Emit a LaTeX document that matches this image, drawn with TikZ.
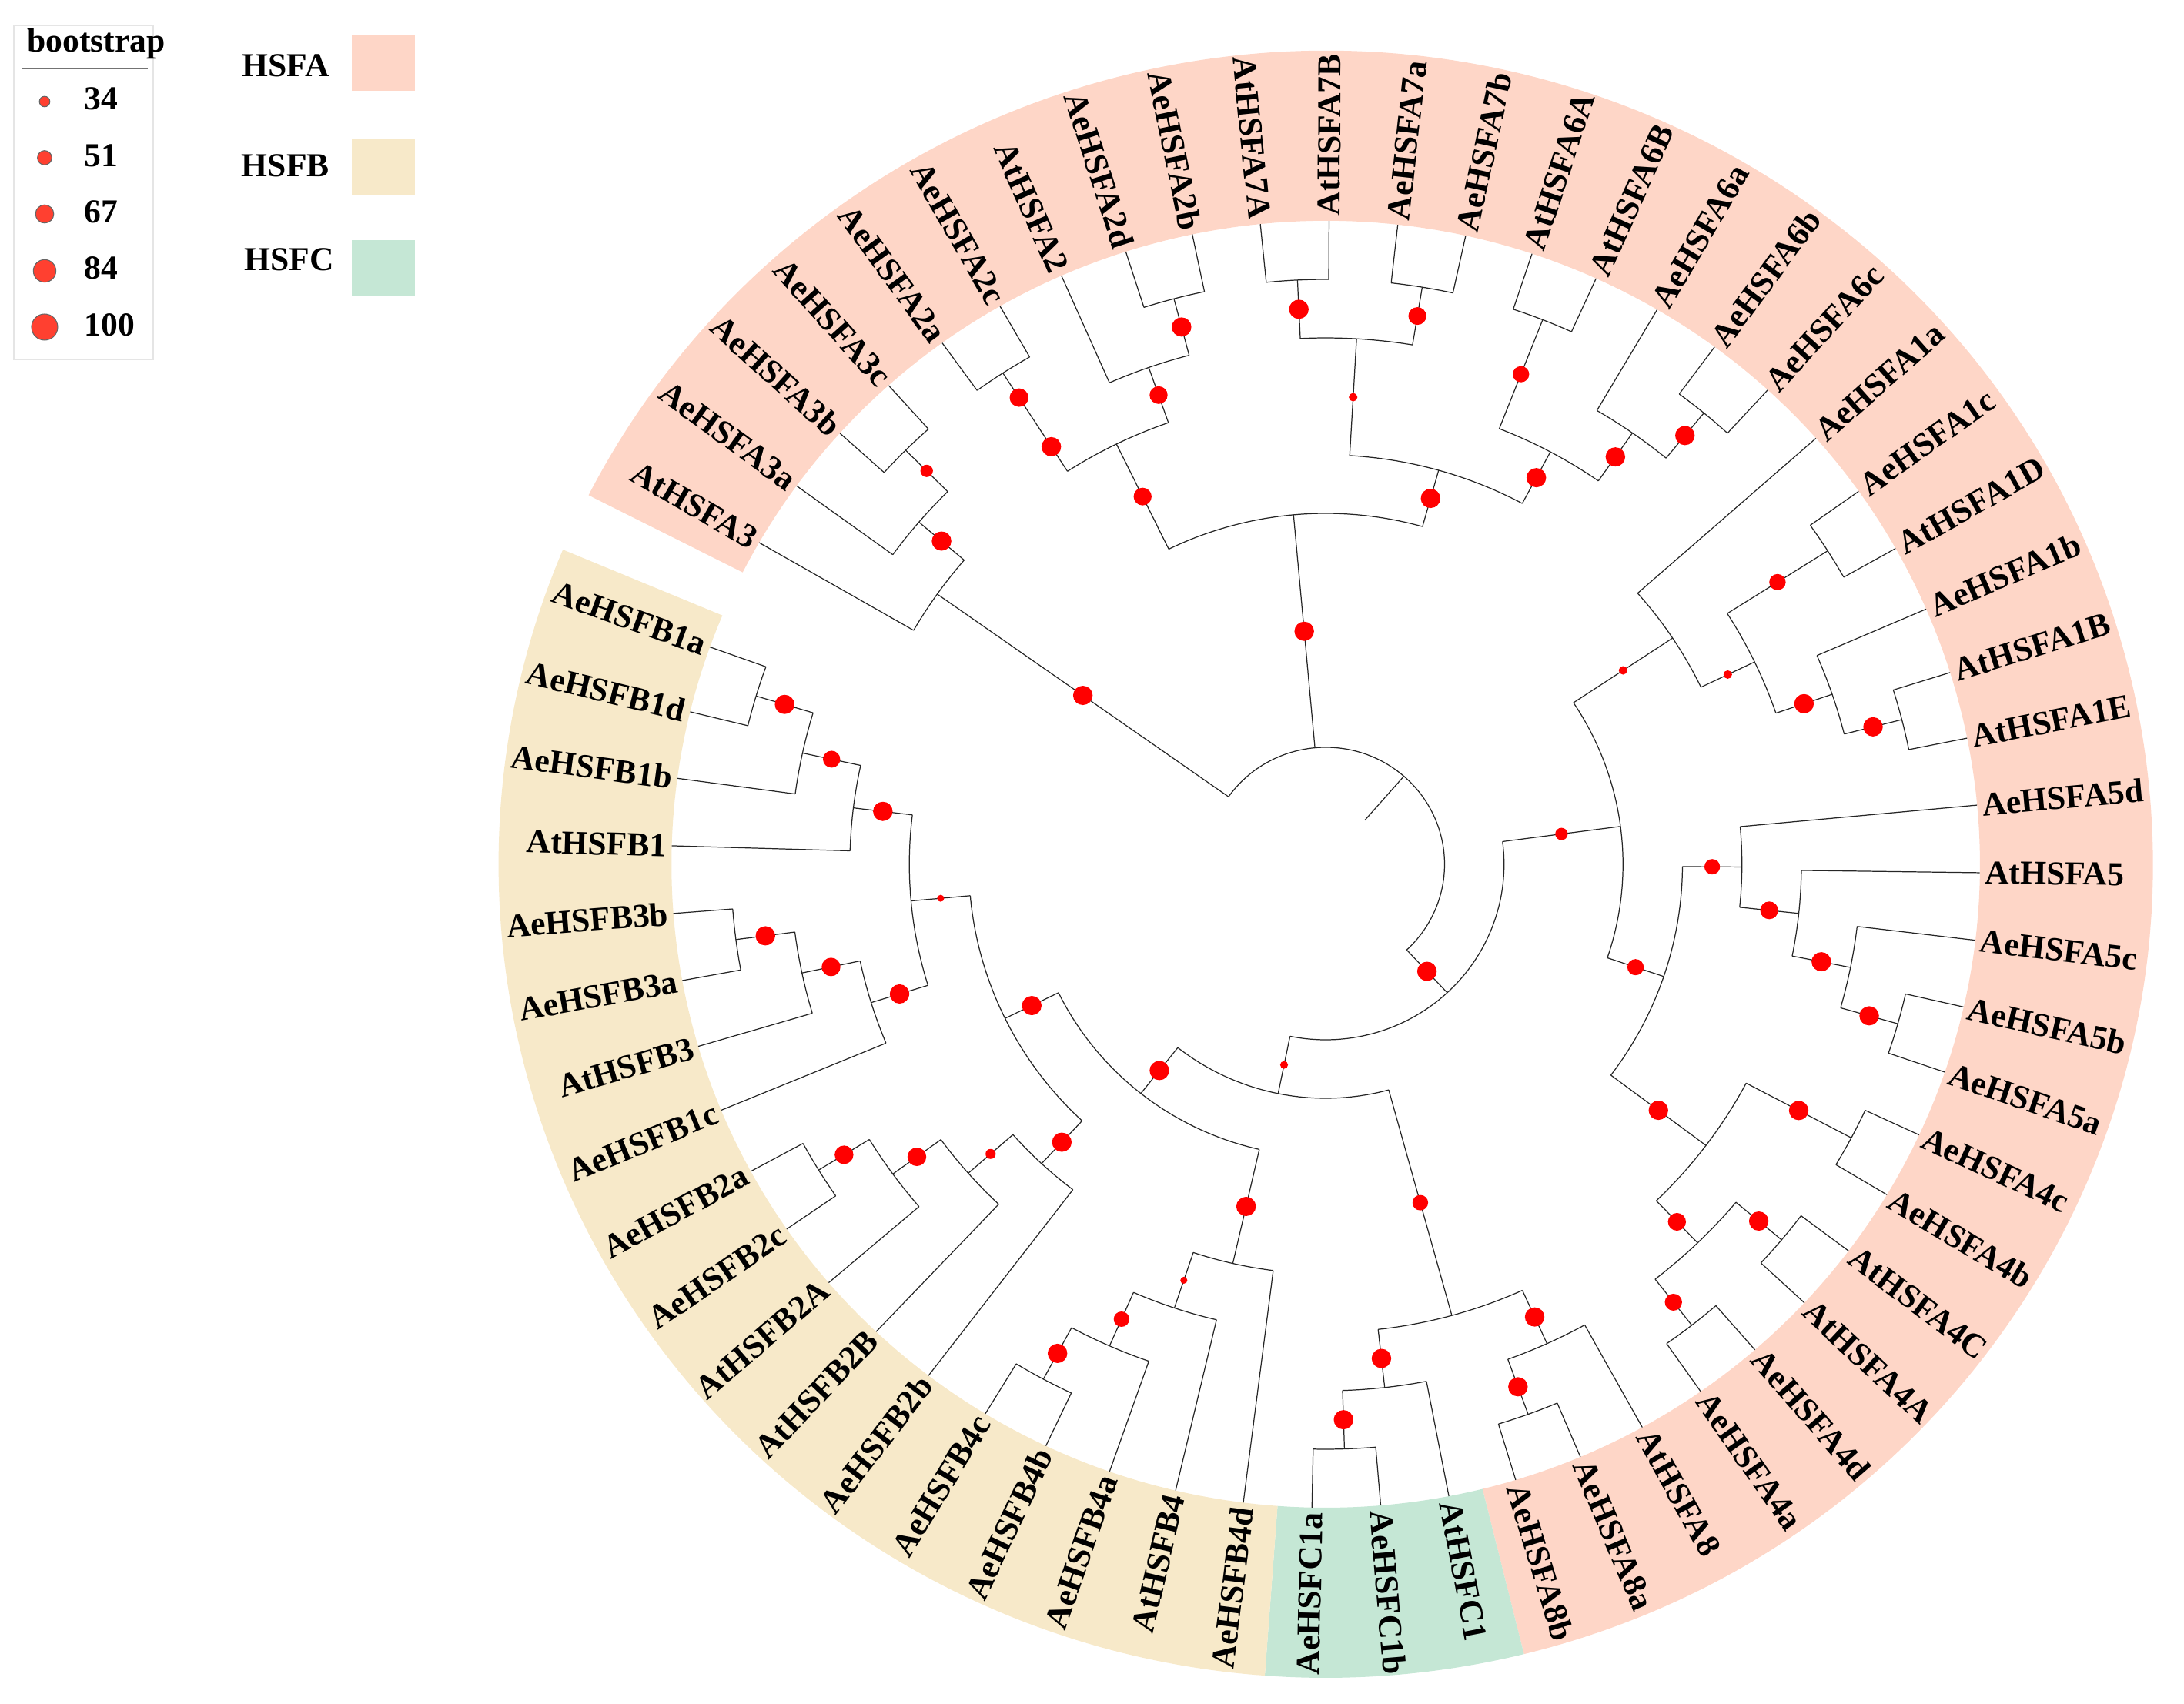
\documentclass[tikz,border=0pt]{standalone}
\usepackage{fontspec}
\setmainfont{Liberation Serif}
\usetikzlibrary{positioning}
\definecolor{hsfa}{RGB}{254,214,199}
\definecolor{hsfb}{RGB}{247,233,201}
\definecolor{hsfc}{RGB}{197,231,213}
\definecolor{keyred}{RGB}{255,64,48}
\newcommand{\levelgap}{0.76}
\tikzset{
    branch/.style={line width=0.35pt, black!85},
    bootdot/.style={fill=red},
    keydot/.style={circle, fill=keyred, draw=black!60, line width=0.3pt, inner sep=0pt},
    tiplabel/.style={font=\fontsize{12.4}{14}\selectfont\bfseries, inner sep=0pt},
    keytext/.style={font=\fontsize{12.4}{14}\selectfont\bfseries, inner sep=0pt},
    swatch/.style={minimum width=0.816cm, minimum height=0.73cm, inner sep=0pt}
}
% internal node: name, level, parent level, first child angle, last child angle, dot size (px)
\newcommand{\tnode}[6]{%
    \pgfmathsetmacro{\nodeang}{(#4+#5)/2}
    \coordinate (#1) at (\nodeang:{#2*\levelgap});
    \draw[branch] (#4:{#2*\levelgap}) arc[start angle=#4, end angle=#5, radius={#2*\levelgap}];
    \draw[branch] (\nodeang:{#3*\levelgap}) -- (#1);
    \fill[bootdot] (\nodeang:{(#2+#3)/2*\levelgap}) circle[radius={#6/200}];
}
% group band: colour, start angle, end angle
\newcommand{\band}[3]{%
    \fill[#1] (#2:8.36) arc[start angle=#2, end angle=#3, radius=8.36]
        -- (#3:10.57) arc[start angle=#3, end angle=#2, radius=10.57] -- cycle;
}

\begin{document}
\begin{tikzpicture}
    \useasboundingbox (-17.22,-10.91) rectangle (11.15,11.23);

    % --- Legend: bootstrap ---
    \draw[black!10, line width=0.4pt] (-17.04,10.90) rectangle (-15.23,6.56);
    \node[keytext, anchor=base] (boothead) at (-15.97,10.55) {bootstrap};
    \draw[black!55, line width=0.6pt] (-16.94,10.34) -- (-15.30,10.34);
    \node[keydot, minimum size=0.136cm] (kd1) at (-16.64,9.91) {};
    \node[keydot, minimum size=0.186cm] (kd2) at (-16.64,9.18) {};
    \node[keydot, minimum size=0.236cm] (kd3) at (-16.64,8.45) {};
    \node[keydot, minimum size=0.293cm] (kd4) at (-16.64,7.71) {};
    \node[keydot, minimum size=0.340cm] (kd5) at (-16.64,6.98) {};
    \node[keytext, anchor=west, right=0.51cm of kd1.center, yshift=0.04cm] {34};
    \node[keytext, anchor=west, right=0.51cm of kd2.center, yshift=0.03cm] {51};
    \node[keytext, anchor=west, right=0.51cm of kd3.center, yshift=0.03cm] {67};
    \node[keytext, anchor=west, right=0.51cm of kd4.center, yshift=0.04cm] {84};
    \node[keytext, anchor=west, right=0.51cm of kd5.center, yshift=0.03cm] {100};

    % --- Legend: groups ---
    \node[swatch, fill=hsfa] (swA) at (-12.24,10.415) {};
    \node[swatch, fill=hsfb] (swB) at (-12.24,9.065) {};
    \node[swatch, fill=hsfc] (swC) at (-12.24,7.745) {};
    \node[keytext, left=0.28cm of swA, yshift=-0.04cm] {HSFA};
    \node[keytext, left=0.28cm of swB, yshift=0.01cm] {HSFB};
    \node[keytext, left=0.22cm of swC, yshift=0.11cm] {HSFC};

    \begin{scope}[xscale=1.0165]
    % --- Group bands ---
    \band{hsfa}{153.015}{-76.125}
    \band{hsfc}{-76.125}{-94.215}
    \band{hsfb}{-94.215}{-202.755}

    % --- Root ---
    \draw[branch] (48.8445:{1*\levelgap}) -- (48.8445:{2*\levelgap});
    \draw[branch] (144.724:{2*\levelgap}) arc[start angle=144.724, end angle=-47.035, radius={2*\levelgap}];

    % --- HSFA3 ---
    \tnode{nA3}{8}{2}{150}{139.4475}{25}
    \tnode{n3a}{9}{8}{143.97}{134.925}{25}
    \tnode{n3bc}{10}{9}{137.94}{131.91}{16}

    % --- HSFA2, HSFA7, HSFA6 ---
    \tnode{nTop}{6}{2}{116.081}{74.248}{25}
    \tnode{nA2}{8}{6}{122.865}{109.2975}{23}
    \tnode{n2ac}{10}{8}{125.88}{119.85}{0}
    \fill[bootdot] (122.865:{8.5*\levelgap}) circle[radius=0.125];
    \fill[bootdot] (122.865:{9.5*\levelgap}) circle[radius=0.12];
    \tnode{n2x}{9}{8}{113.82}{104.775}{23}
    \tnode{n2db}{10}{9}{107.79}{101.76}{25}
    \tnode{n76}{7}{6}{86.685}{61.811}{25}
    \tnode{n7}{9}{7}{92.715}{80.655}{11}
    \tnode{n7AB}{10}{9}{95.73}{89.70}{25}
    \tnode{n7ab}{10}{9}{83.67}{77.64}{23}
    \tnode{nA6}{8}{7}{68.595}{55.0275}{25}
    \tnode{n6AB}{10}{8}{71.61}{65.58}{21}
    \tnode{n6x}{9}{8}{59.55}{50.505}{25}
    \tnode{n6bc}{10}{9}{53.52}{47.49}{25}

    % --- HSFA1, HSFA5, HSFA4 ---
    \tnode{nX}{3}{2}{7.447}{-101.517}{25}
    \tnode{nY}{5}{3}{33.546}{-18.6515}{16}
    \tnode{nA1}{7}{5}{41.46}{25.631}{11}
    \tnode{nA1p}{8}{7}{32.415}{18.8475}{11}
    \tnode{n1cD}{10}{8}{35.43}{29.40}{21}
    \tnode{n1b}{9}{8}{23.37}{14.325}{25}
    \tnode{n1BE}{10}{9}{17.34}{11.31}{25}
    \tnode{nZ}{6}{5}{-0.373}{-36.93}{21}
    \tnode{nA5}{7}{6}{5.28}{-6.026}{20}
    \tnode{n5}{8}{7}{-0.75}{-11.3025}{23}
    \tnode{n5c}{9}{8}{-6.78}{-15.825}{25}
    \tnode{n5ba}{10}{9}{-12.81}{-18.84}{25}
    \tnode{nW}{8}{6}{-27.885}{-45.975}{25}
    \tnode{n4cb}{10}{8}{-24.87}{-30.90}{25}
    \tnode{nV}{9}{8}{-39.945}{-52.005}{23}
    \tnode{n4CA}{10}{9}{-36.93}{-42.96}{25}
    \tnode{n4da}{10}{9}{-48.99}{-55.02}{22}

    % --- HSFA8, HSFC ---
    \tnode{nU}{4}{3}{-128.416}{-74.6175}{10}
    \tnode{nT}{8}{4}{-83.6625}{-65.5725}{20}
    \tnode{nA8}{9}{8}{-61.05}{-70.095}{25}
    \tnode{n8ab}{10}{9}{-67.08}{-73.11}{25}
    \tnode{nC}{9}{8}{-79.14}{-88.185}{25}
    \tnode{nC1}{10}{9}{-85.17}{-91.20}{25}

    % --- HSFB ---
    \tnode{nS}{5}{4}{-153.9495}{-102.883}{25}
    \tnode{nB4}{7}{5}{-97.23}{-108.536}{25}
    \tnode{nB4b}{8}{7}{-103.26}{-113.8125}{9}
    \tnode{nB4a}{9}{8}{-109.29}{-118.335}{20}
    \tnode{n4bc}{10}{9}{-115.32}{-121.35}{25}
    \tnode{nQ}{6}{5}{-174.866}{-133.033}{25}
    \tnode{nB2}{7}{6}{-127.38}{-138.686}{25}
    \tnode{nB2B}{8}{7}{-133.41}{-143.9625}{13}
    \tnode{nB2A}{9}{8}{-139.44}{-148.485}{24}
    \tnode{nB2ac}{10}{9}{-145.47}{-151.50}{24}
    \tnode{nP}{7}{6}{-186.926}{-162.806}{9}
    \tnode{nB1}{8}{7}{-181.65}{-192.2025}{25}
    \tnode{nB1p}{9}{8}{-187.68}{-196.725}{22}
    \tnode{n1ad}{10}{9}{-193.71}{-199.74}{25}
    \tnode{nB3}{8}{7}{-157.53}{-168.0825}{25}
    \tnode{nB3p}{9}{8}{-163.56}{-172.605}{24}
    \tnode{n3ba}{10}{9}{-169.59}{-175.62}{25}

    % --- Leaves and labels ---
    \foreach \lname/\lp [count=\i from 0] in {AtHSFA3/8, AeHSFA3a/9, AeHSFA3b/10, AeHSFA3c/10,
        AeHSFA2a/10, AeHSFA2c/10, AtHSFA2/9, AeHSFA2d/10, AeHSFA2b/10, AtHSFA7A/10,
        AtHSFA7B/10, AeHSFA7a/10, AeHSFA7b/10, AtHSFA6A/10, AtHSFA6B/10, AeHSFA6a/9,
        AeHSFA6b/10, AeHSFA6c/10, AeHSFA1a/7, AeHSFA1c/10, AtHSFA1D/10, AeHSFA1b/9,
        AtHSFA1B/10, AtHSFA1E/10, AeHSFA5d/7, AtHSFA5/8, AeHSFA5c/9, AeHSFA5b/10,
        AeHSFA5a/10, AeHSFA4c/10, AeHSFA4b/10, AtHSFA4C/10, AtHSFA4A/10, AeHSFA4d/10,
        AeHSFA4a/10, AtHSFA8/9, AeHSFA8a/10, AeHSFA8b/10, AtHSFC1/9, AeHSFC1b/10,
        AeHSFC1a/10, AeHSFB4d/7, AtHSFB4/8, AeHSFB4a/9, AeHSFB4b/10, AeHSFB4c/10,
        AeHSFB2b/7, AtHSFB2B/8, AtHSFB2A/9, AeHSFB2c/10, AeHSFB2a/10, AeHSFB1c/8,
        AtHSFB3/9, AeHSFB3a/10, AeHSFB3b/10, AtHSFB1/8, AeHSFB1b/9, AeHSFB1d/10,
        AeHSFB1a/10} {
        \pgfmathsetmacro{\ang}{150-6.03*\i}
        \pgfmathtruncatemacro{\rside}{(\ang<90)*(\ang>-90)}
        \draw[branch] (\ang:{\lp*\levelgap}) -- (\ang:{11*\levelgap}) coordinate (tip\i);
        \ifnum\rside=1
            \node[tiplabel, anchor=west, rotate=\ang] (leaf\i) at (\ang:8.42) {\lname};
        \else
            \node[tiplabel, anchor=east, rotate={\ang+180}] (leaf\i) at (\ang:8.42) {\lname};
        \fi
    }
    \end{scope}
\end{tikzpicture}
\end{document}
